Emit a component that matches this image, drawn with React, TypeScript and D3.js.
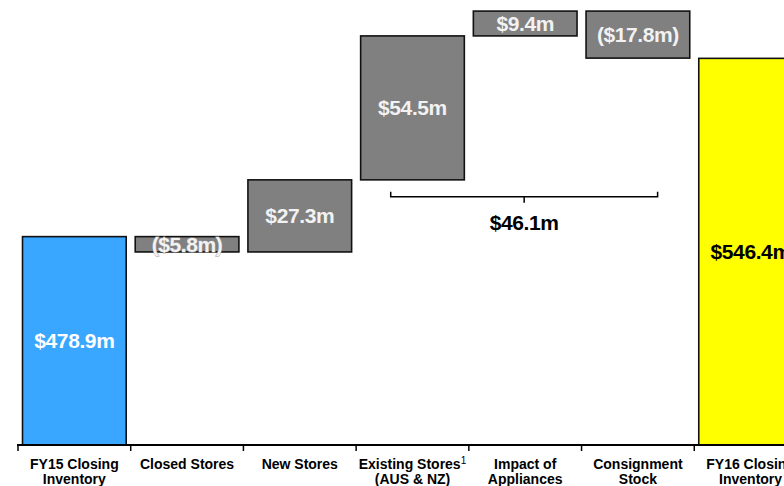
import React from "react";
import * as d3 from "d3";

const categories = [
  "FY15 Closing|Inventory",
  "Closed Stores",
  "New Stores",
  "Existing Stores|(AUS & NZ)",
  "Impact of|Appliances",
  "Consignment|Stock",
  "FY16 Closing|Inventory",
];
const kinds = ["total", "delta", "delta", "delta", "delta", "delta", "total"];
const values = [478.9, -5.8, 27.3, 54.5, 9.4, -17.8, 546.4];
const valueLabels = ["$478.9m", "($5.8m)", "$27.3m", "$54.5m", "$9.4m", "($17.8m)", "$546.4m"];
const bracketLabel = "$46.1m";

const W = 784;
const H = 486;

export default function App() {
  const x = d3
    .scaleBand<number>()
    .domain(d3.range(categories.length))
    .range([18, 18 + 112.71 * 7])
    .paddingInner(0.08)
    .paddingOuter(0.04);
  const step = x.step();
  const y = d3.scaleLinear().domain([400, 568.5]).range([445, 0]);

  let running = 0;
  const segs = values.map((v, i) => {
    let lo: number, hi: number;
    if (kinds[i] === "total") {
      lo = 400;
      hi = v;
      running = v;
    } else {
      const start = running;
      running = running + v;
      lo = Math.min(start, running);
      hi = Math.max(start, running);
    }
    return { lo, hi };
  });

  const colors = ["#39A7FF", "#808080", "#808080", "#808080", "#808080", "#808080", "#FFFF00"];
  const labelColors = ["#ffffff", "#f2f2f2", "#f2f2f2", "#f2f2f2", "#f2f2f2", "#f2f2f2", "#000000"];

  const font = "'Liberation Sans', Arial, Helvetica, sans-serif";

  const bx0 = (x(3) as number) + x.bandwidth() * 0.29;
  const bx1 = (x(5) as number) + x.bandwidth() * 0.69;
  const by = y(segs[3].lo) + 17;
  const bmid = (bx0 + bx1) / 2;

  const ticks = d3.range(categories.length + 1).map((i) => 18 + i * step);

  return (
    <svg
      width={W}
      height={H}
      style={{ position: "absolute", left: 0, top: 0, background: "#fff" }}
      fontFamily={font}
    >
      {segs.map((s, i) => (
        <rect
          key={"b" + i}
          x={x(i)}
          y={y(s.hi)}
          width={x.bandwidth()}
          height={y(s.lo) - y(s.hi)}
          fill={colors[i]}
          stroke="#111"
          strokeWidth={1.6}
        />
      ))}
      <line x1={17} x2={W} y1={445} y2={445} stroke="#000" strokeWidth={1.8} />
      {ticks.map((t, i) => (
        <line key={"t" + i} x1={t} x2={t} y1={445} y2={451} stroke="#000" strokeWidth={1.5} />
      ))}
      {segs.map((s, i) => (
        <text
          key={"v" + i}
          x={(x(i) as number) + x.bandwidth() / 2}
          y={(y(s.hi) + y(s.lo)) / 2}
          dy="0.36em"
          textAnchor="middle"
          fontSize={21}
          fontWeight="bold"
          fill={labelColors[i]}
          stroke={i === 1 ? "#9a9a9a" : "none"}
          strokeWidth={i === 1 ? 0.8 : 0}
          style={{ paintOrder: "stroke" }}
          letterSpacing={-0.4}
        >
          {valueLabels[i]}
        </text>
      ))}
      <path
        d={`M${bx0},${by - 5}V${by}H${bx1}V${by - 5}M${bmid},${by}V${by + 6}`}
        fill="none"
        stroke="#000"
        strokeWidth={1.5}
      />
      <text
        x={bmid}
        y={by + 33}
        textAnchor="middle"
        fontSize={21}
        fontWeight="bold"
        fill="#000"
        letterSpacing={-0.4}
      >
        {bracketLabel}
      </text>
      {categories.map((c, i) => {
        const lines = c.split("|");
        const cx = (x(i) as number) + x.bandwidth() / 2;
        return (
          <text
            key={"c" + i}
            x={cx}
            textAnchor="middle"
            fontSize={14}
            fontWeight="bold"
            fill="#000"
          >
            {lines.map((l, j) => (
              <tspan key={j} x={cx} y={469 + j * 14.5}>
                {l}
                {i === 3 && j === 0 ? (
                  <tspan fontSize={10} fontWeight="normal" dy={-5}>
                    1
                  </tspan>
                ) : null}
              </tspan>
            ))}
          </text>
        );
      })}
    </svg>
  );
}
